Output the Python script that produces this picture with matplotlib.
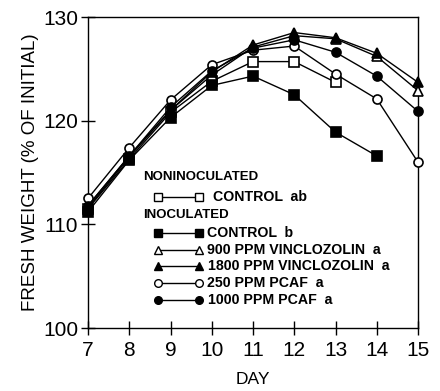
import numpy as np
import matplotlib
matplotlib.use("Agg")
import matplotlib.pyplot as plt

plt.rcParams['font.family'] = ['Liberation Sans', 'DejaVu Sans']

days = [7, 8, 9, 10, 11, 12, 13, 14, 15]
nonino_control = [111.5, 116.3, 120.8, 123.8, 125.7, 125.7, 123.7, np.nan, np.nan]
ino_control = [111.2, 116.2, 120.3, 123.4, 124.3, 122.5, 118.9, 116.6, np.nan]
vinc_900 = [111.8, 116.6, 121.0, 124.4, 127.1, 128.2, 127.9, 126.2, 122.9]
vinc_1800 = [111.6, 116.5, 121.0, 124.7, 127.3, 128.5, 128.0, 126.5, 123.7]
pcaf_250 = [112.5, 117.4, 122.0, 125.4, 126.8, 127.2, 124.5, 122.1, 116.0]
pcaf_1000 = [111.8, 116.6, 121.3, 124.8, 127.0, 127.8, 126.6, 124.3, 120.9]

series = [
    (nonino_control, 's', 'white', 'CONTROL  ab'),
    (ino_control, 's', 'black', 'CONTROL  b'),
    (vinc_900, '^', 'white', '900 PPM VINCLOZOLIN  a'),
    (vinc_1800, '^', 'black', '1800 PPM VINCLOZOLIN  a'),
    (pcaf_250, 'o', 'white', '250 PPM PCAF  a'),
    (pcaf_1000, 'o', 'black', '1000 PPM PCAF  a'),
]

fig = plt.figure(figsize=(4.4, 3.91), dpi=100)
ax = fig.add_axes([0.2, 0.161, 0.75, 0.7955])

for vals, mk, fc, lab in series:
    ax.plot(days, vals, color='black', lw=1.0, marker=mk, markersize=6.5,
            markerfacecolor=fc, markeredgecolor='black', markeredgewidth=1.2,
            clip_on=False, zorder=3)

ax.set_xlim(7, 15)
ax.set_ylim(100, 130)
ax.set_xticks(days)
ax.set_yticks([100, 110, 120, 130])
ax.tick_params(direction='inout', length=10, width=1, labelsize=15)
ax.tick_params(axis='x', pad=4)
ax.tick_params(axis='y', pad=2)
for s in ax.spines.values():
    s.set_linewidth(1)
ax.set_ylabel('FRESH WEIGHT (% OF INITIAL)', fontsize=13.5, labelpad=3)
ax.set_xlabel('DAY', fontsize=12.5, labelpad=9)

# custom legend (axes-fraction layout)
def fx(px):
    return (px - 88) / 330.0

def fy(py):
    return (328 - py) / 311.0

ax.text(fx(143), fy(177), 'NONINOCULATED', transform=ax.transAxes, fontsize=9.5,
        fontweight='bold', va='center', ha='left')
ax.text(fx(143), fy(215), 'INOCULATED', transform=ax.transAxes, fontsize=9.5,
        fontweight='bold', va='center', ha='left')
rows = [197, 233, 250, 266, 283, 300]
text_x = [213, 207, 207, 208, 207, 208]
for (vals, mk, fc, lab), ry, tx in zip(series, rows, text_x):
    ax.plot([fx(158), fx(199)], [fy(ry), fy(ry)], transform=ax.transAxes,
            color='black', lw=1.0, marker=mk, markersize=5.5,
            markerfacecolor=fc, markeredgecolor='black', markeredgewidth=1.0,
            clip_on=False)
    ax.text(fx(tx), fy(ry), lab, transform=ax.transAxes, fontsize=10.2,
            fontweight='bold', va='center', ha='left')

fig.savefig('out.png', dpi=100)
